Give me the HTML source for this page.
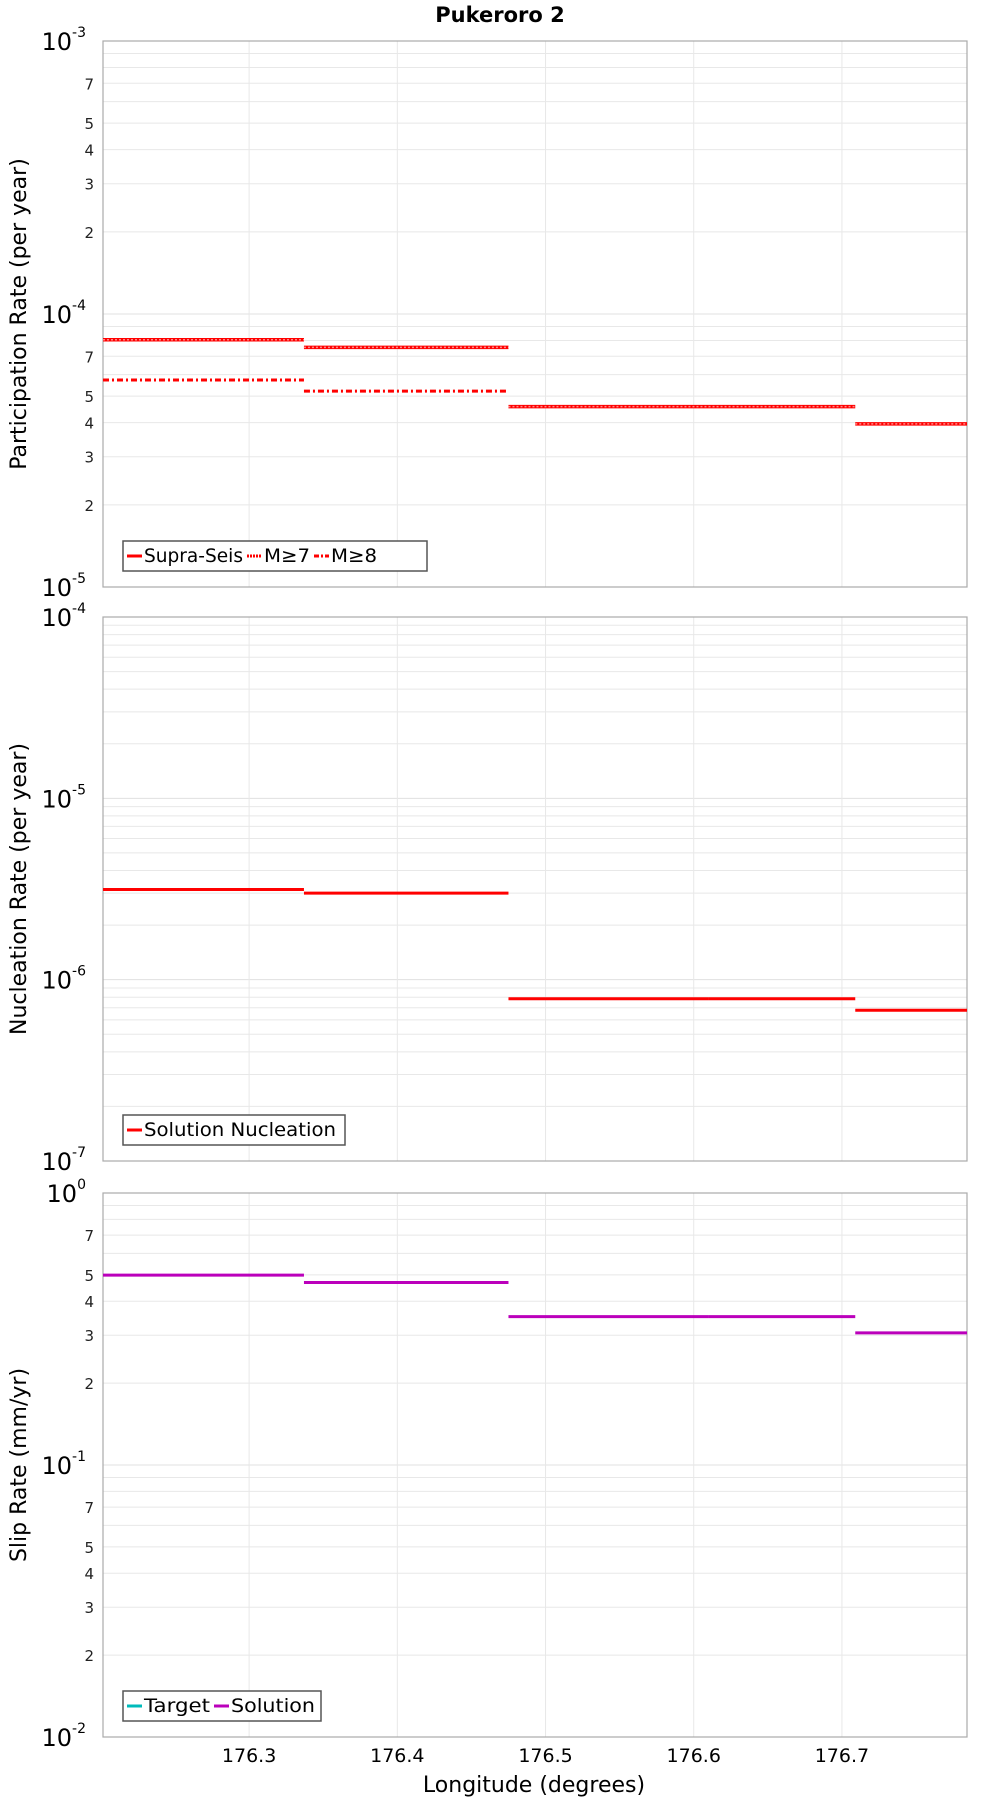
<!DOCTYPE html>
<html><head><meta charset="utf-8"><style>
html,body{margin:0;padding:0;background:#fff;}
svg text{font-family:"DejaVu Sans","Liberation Sans",sans-serif;}
</style></head><body>
<svg id="c" width="1000" height="1800" xmlns="http://www.w3.org/2000/svg"></svg>
<script>
const xTicks=[176.3,176.4,176.5,176.6,176.7];
const segBreaks=[176.2014,176.337,176.475,176.610,176.709,176.7844];
const supraSeis=[8.05e-5,7.55e-5,4.58e-5,4.58e-5,3.96e-5];
const m7=[8.05e-5,7.55e-5,4.58e-5,4.58e-5,3.96e-5];
const m8=[5.73e-5,5.22e-5,null,null,null];
const nucleation=[3.14e-6,3.0e-6,7.85e-7,7.85e-7,6.78e-7];
const slipSolution=[0.499,0.469,0.351,0.351,0.306];
const NS='http://www.w3.org/2000/svg';
const svg=document.getElementById('c');
const L=103,R=967;
const xMin=176.2014,xMax=176.7844;
function xs(v){return L+(v-xMin)/(xMax-xMin)*(R-L);}
function mk(tag,attrs,parent){const e=document.createElementNS(NS,tag);for(const k in attrs)e.setAttribute(k,attrs[k]);(parent||svg).appendChild(e);return e;}
const title=mk('text',{x:500,y:22,'text-anchor':'middle','font-size':21,'font-weight':'bold'});
title.textContent='Pukeroro 2';


function panel(name,top,bot,eMin,eMax,ytitle,series,legend,minorLabels){
  const g=mk('g',{});
  
  
  const ys=v=>bot-(Math.log10(v)-eMin)/(eMax-eMin)*(bot-top);
  for(let e=eMin;e<eMax;e++){for(let m=2;m<=9;m++){const y=ys(m*Math.pow(10,e));
    mk('line',{x1:L,x2:R,y1:y,y2:y,stroke:'#e8e8e8','stroke-width':1},g);
    if(minorLabels&&(m==2||m==3||m==4||m==5||m==7)){const t=mk('text',{x:94,y:y+6,'text-anchor':'end','font-size':15,fill:'#222'},g);t.textContent=m;
      
      }
  }}
  for(let e=eMin;e<=eMax;e++){const y=ys(Math.pow(10,e));
    mk('line',{x1:L,x2:R,y1:y,y2:y,stroke:'#e0e0e0','stroke-width':1},g);
    const t=mk('text',{x:86,y:y+9,'text-anchor':'end','font-size':24},g);
    t.textContent='10';
    const s=mk('tspan',{dy:-13,'font-size':14},t);s.textContent=String(e);
    
    }
  xTicks.forEach(v=>{mk('line',{x1:xs(v),x2:xs(v),y1:top,y2:bot,stroke:'#e8e8e8','stroke-width':1},g);});
  const fr=mk('rect',{x:L,y:top,width:R-L,height:bot-top,fill:'none',stroke:'#aaa','stroke-width':1.2},g);
  
  
  const cy=(top+bot)/2;
  const yt=mk('text',{x:0,y:0,'text-anchor':'middle','font-size':22,transform:`translate(26,${cy}) rotate(-90)`},g);
  yt.textContent=ytitle;
  
  
  series.forEach(s=>{s.vals.forEach((v,i)=>{if(v==null)return;
    const ln=mk('line',{x1:xs(segBreaks[i]),x2:xs(segBreaks[i+1]),y1:ys(v),y2:ys(v),stroke:s.color,'stroke-width':s.w,'stroke-dasharray':s.dash||'none'},g);
    
    });});
  const lg=mk('g',{},g);
  
  
  const lx=123,ly=bot-46;
  mk('rect',{x:lx,y:ly,width:legend.w,height:30,fill:'#fff',stroke:'#555','stroke-width':1.5},lg);
  let cx=lx+4;
  legend.items.forEach(it=>{
    mk('line',{x1:cx,x2:cx+15,y1:ly+15,y2:ly+15,stroke:it.color,'stroke-width':3,'stroke-dasharray':it.dash||'none'},lg);
    const t=mk('text',{x:cx+17,y:ly+21,'font-size':19,textLength:it.tw-4,lengthAdjust:'spacingAndGlyphs'},lg);t.textContent=it.label;
    
    
    cx+=17+it.tw;});
}
panel('participation-panel',41,587,-5,-3,'Participation Rate (per year)',[
 {name:'supra-seis',vals:supraSeis,color:'#f00',w:3.5},
 {name:'m7',vals:m7,color:'#f88',w:1.5,dash:'2 2'},
 {name:'m8',vals:m8,color:'#f00',w:3,dash:'6 3 2 3'}],
 {w:304,items:[{label:'Supra-Seis',color:'#f00',tw:103},{label:'M≥7',color:'#f00',dash:'2 1',tw:50},{label:'M≥8',color:'#f00',dash:'5 2 2 2',tw:50}]},true);
panel('nucleation-panel',617,1161,-7,-4,'Nucleation Rate (per year)',[
 {name:'nucleation',vals:nucleation,color:'#f00',w:3}],
 {w:222,items:[{label:'Solution Nucleation',color:'#f00',tw:196}]},false);
panel('slip-rate-panel',1193,1737,-2,0,'Slip Rate (mm/yr)',[
 {name:'slip-solution',vals:slipSolution,color:'#b0b',w:3}],
 {w:198,items:[{label:'Target',color:'#0bb',tw:70},{label:'Solution',color:'#b0b',tw:88}]},true);
xTicks.forEach(v=>{const t=mk('text',{x:xs(v),y:1762,'text-anchor':'middle','font-size':19});t.textContent=v.toFixed(1);
 
 });
const xt=mk('text',{x:534,y:1792,'text-anchor':'middle','font-size':22});
xt.textContent='Longitude (degrees)';


</script>
</body></html>
